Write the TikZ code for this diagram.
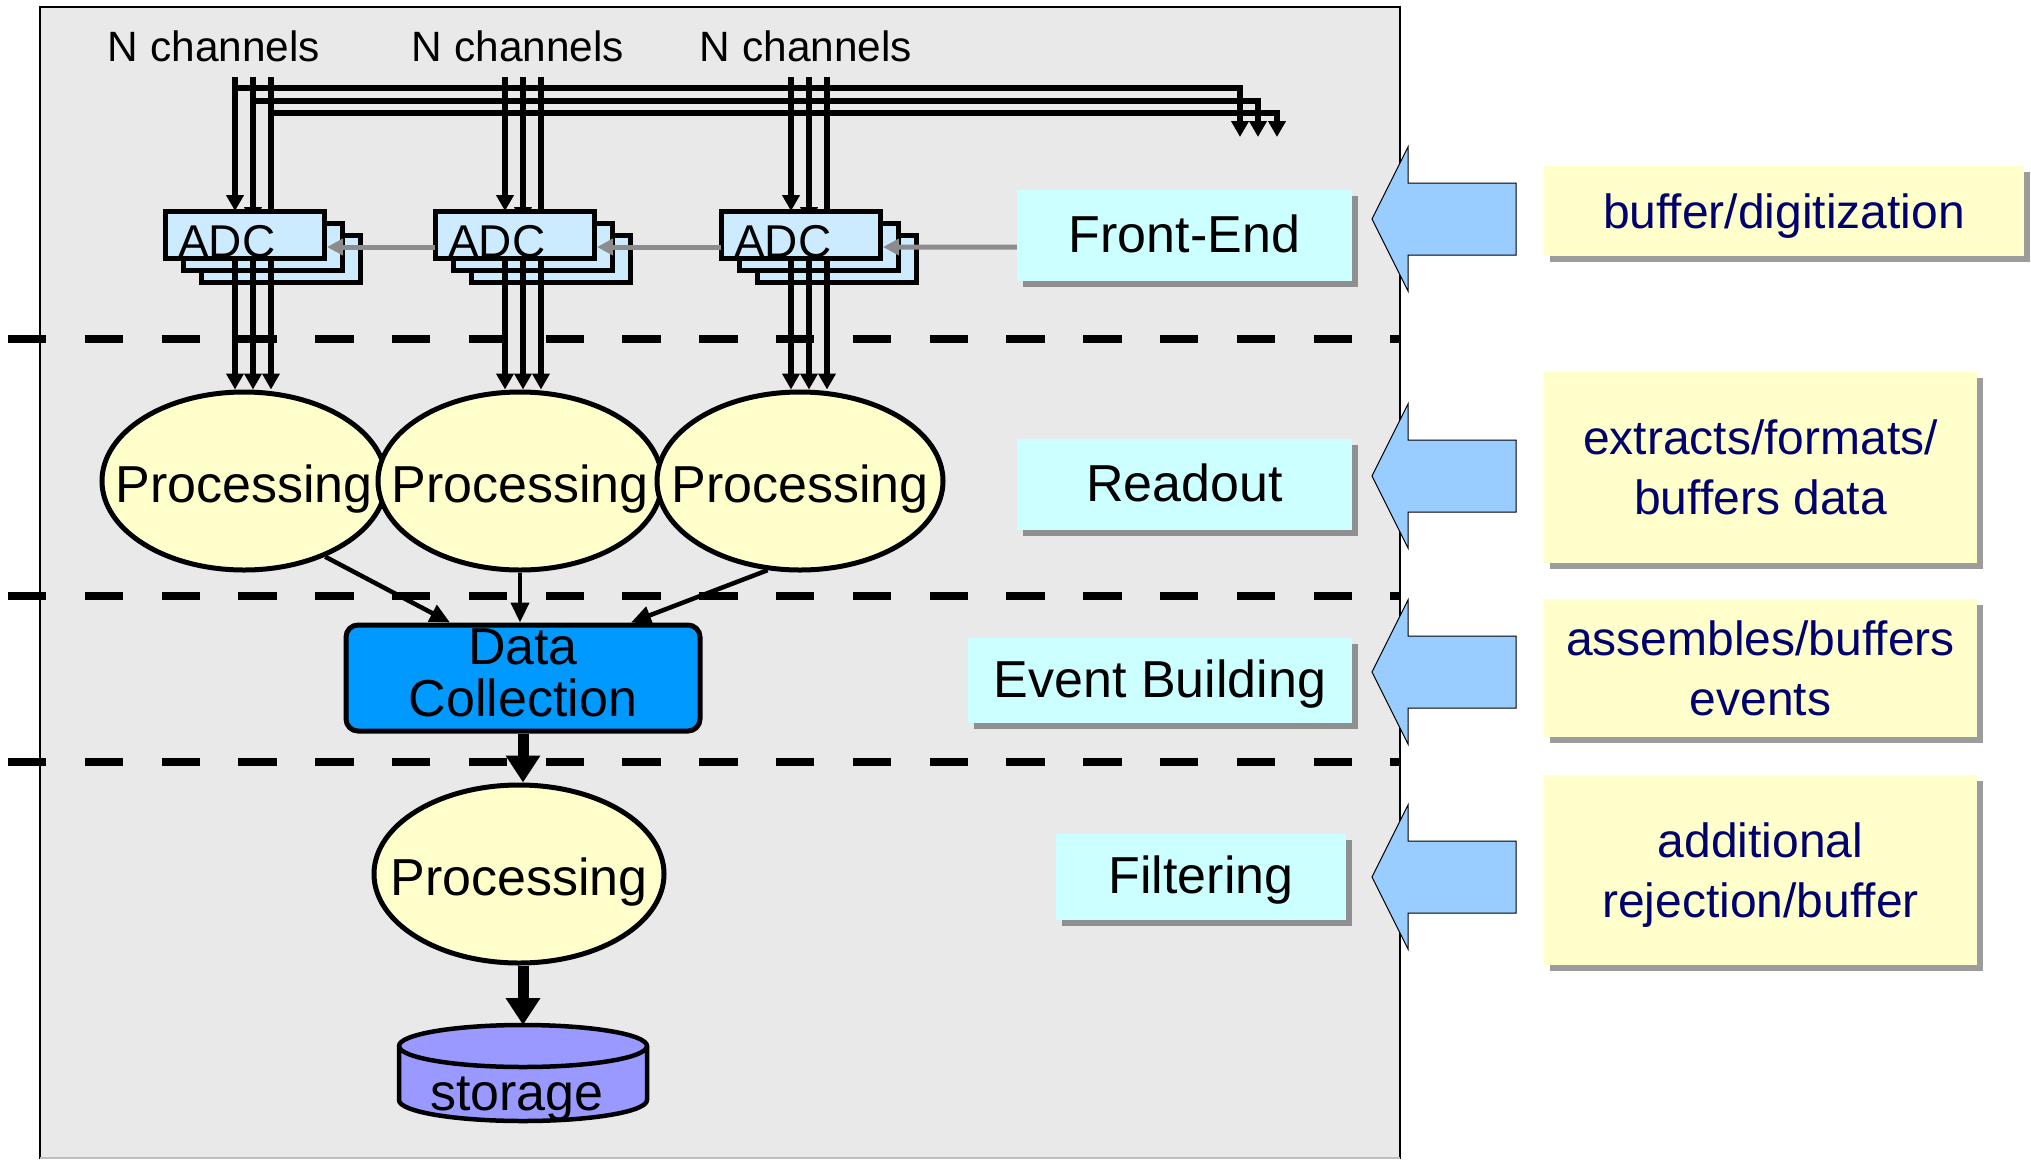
\documentclass[tikz,border=0pt]{standalone}
\usepackage{fontspec}
\setmainfont{Liberation Sans}
\usetikzlibrary{arrows.meta,calc,shapes.geometric,shadows}
\definecolor{bggray}{HTML}{E9E9E9}
\definecolor{adcblue}{HTML}{CCEBFF}
\definecolor{procyel}{HTML}{FFFFCC}
\definecolor{dcblue}{HTML}{0099FF}
\definecolor{storeblue}{HTML}{9999FF}
\definecolor{lblcyan}{HTML}{CCFFFF}
\definecolor{arrblue}{HTML}{99CCFF}
\definecolor{shadowgray}{HTML}{8F8F8F}
\definecolor{shadowlight}{HTML}{9C9C9C}
\definecolor{navytext}{HTML}{00006E}
\definecolor{linkgray}{HTML}{8C8C8C}
\pgfdeclarelayer{back}
\pgfdeclarelayer{lines}
\pgfsetlayers{back,lines,main}
\newcommand\szA{\fontsize{52bp}{52bp}\selectfont}
\newcommand\szB{\fontsize{42.4bp}{50bp}\selectfont}
\newcommand\szC{\fontsize{46bp}{50bp}\selectfont}
\newcommand\szD{\fontsize{48bp}{60bp}\selectfont}
\begin{document}
\begin{tikzpicture}[x=1bp,y=-1bp,line join=miter,
  chan/.style={line width=5.5bp},
  tipk/.style={-{Triangle[length=16bp,width=17bp]}},
  adcbox/.style={draw,line width=5bp,fill=adcblue,minimum width=159bp,minimum height=47bp,inner sep=0pt,outer sep=0pt},
  procshape/.style={ellipse,draw,line width=5bp,fill=procyel,inner sep=0pt,minimum height=178bp},
  proctext/.style={inner sep=0pt,text depth=0bp,font=\szA},
  lbl/.style={fill=lblcyan,inner sep=0pt,text depth=4bp,font=\szA,
    drop shadow={shadow xshift=6bp,shadow yshift=-6bp,fill=shadowgray,opacity=1}},
  desc/.style={fill=procyel,inner sep=0pt,align=center,text=navytext,font=\szD,text depth=0bp,
    drop shadow={shadow xshift=6bp,shadow yshift=-6bp,fill=shadowlight,opacity=1}},
  grayarr/.style={draw=linkgray,line width=5bp,-{Triangle[length=16bp,width=16bp]}},
  midarr/.style={line width=4.5bp,-{Triangle[length=20bp,width=18bp]}},
  thickarr/.style={line width=11bp,-{Triangle[length=27bp,width=33bp]}},
  bigarrow/.style={fill=arrblue,draw=black,line width=1bp},
  sep/.style={line width=8bp,dash pattern=on 38.4bp off 38.4bp}]
\useasboundingbox (0,0) rectangle (2031,1159);

\begin{pgfonlayer}{back}
  \fill[white] (0,0) rectangle (2031,1159);
  \fill[bggray] (40,7) rectangle (1400,1159);
  \draw[line width=2bp] (40,1159) -- (40,7) -- (1400,7) -- (1400,1159);
  \draw[line width=1.5bp,draw=black!25] (40,1158) -- (1400,1158);
  \foreach \yy in {339,596,762} \draw[sep] (8,\yy) -- (1400,\yy);
\end{pgfonlayer}

% N channels labels
\node[font=\szB,anchor=base,inner sep=0pt] (nc1) at (214,61) {N channels};
\node[font=\szB,anchor=base,inner sep=0pt] (nc2) at (518,61) {N channels};
\node[font=\szB,anchor=base,inner sep=0pt] (nc3) at (806,61) {N channels};

% label boxes
\node[lbl,minimum width=335bp,minimum height=91bp] (fe) at (1184.5,235.5) {Front-End};
\node[lbl,minimum width=335bp,minimum height=91bp] (ro) at (1184.5,484.5) {Readout};
\node[lbl,minimum width=384bp,minimum height=85bp] (eb) at (1160,680.5) {Event Building};
\node[lbl,minimum width=290bp,minimum height=86bp] (fi) at (1201,877) {Filtering};

% ADC stacks
\foreach \g/\dx in {1/0,2/270,3/556} {
  \node[adcbox] (adcC\g) at (280.5+\dx,258.5) {};
  \node[adcbox] (adcB\g) at (262.5+\dx,246.5) {};
  \node[adcbox] (adcA\g) at (244.5+\dx,234.5) {};
  \node[font=\szC,anchor=base west,inner sep=0pt] (adct\g) at ($(adcA\g.south west)+(13,-1)$) {ADC};
  \coordinate (ta\g) at (235+\dx,77);
  \coordinate (tb\g) at (253+\dx,77);
  \coordinate (tc\g) at (271+\dx,77);
}

% bus and channel lines behind the ADC boxes
\coordinate (h1s) at (235,88);  \coordinate (h1e) at (1240,137);
\coordinate (h2s) at (253,101); \coordinate (h2e) at (1258,137);
\coordinate (h3s) at (271,113); \coordinate (h3e) at (1277,137);
\begin{pgfonlayer}{lines}
  \foreach \g in {1,2,3} {
    \draw[chan,tipk] (ta\g) -- (ta\g |- adcA\g.north);
    \draw[chan,tipk] (tb\g) -- (tb\g |- adcB\g.north);
    \draw[chan,tipk] (tc\g) -- (tc\g |- adcC\g.north);
  }
  \draw[chan,tipk] (h1s) -| (h1e);
  \draw[chan,tipk] (h2s) -| (h2e);
  \draw[chan,tipk] (h3s) -| (h3e);
\end{pgfonlayer}

% gray control arrows
\draw[grayarr] ($(adcA2.south west)+(0,-11)$) -- ($(adcA1.south east)+(3,-11)$);
\draw[grayarr] ($(adcA3.south west)+(0,-11)$) -- ($(adcA2.south east)+(3,-11)$);
\draw[grayarr] ($(fe.south west)+(0,-34)$) -- ($(adcA3.south east)+(3,-11)$);

% processing ellipses
\node[procshape,minimum width=284bp] (p1) at (244,481) {};
\node[proctext] (p1t) at ($(p1.center)+(0,3)$) {Processing};
\node[procshape,minimum width=284bp] (p2) at (520,481) {};
\node[proctext] (p2t) at ($(p2.center)+(0,3)$) {Processing};
\node[procshape,minimum width=286bp] (p3) at (800,481) {};
\node[proctext] (p3t) at ($(p3.center)+(0,3)$) {Processing};

% channel lines from ADC to processing
\foreach \g/\p in {1/p1,2/p2,3/p3} {
  \draw[chan,tipk] (ta\g |- adcA\g.south) -- (ta\g |- \p.north);
  \draw[chan,tipk] (tb\g |- adcA\g.south) -- (tb\g |- \p.north);
  \draw[chan,tipk] (tc\g |- adcA\g.south) -- (tc\g |- \p.north);
}

% data collection
\node[draw,line width=5bp,fill=dcblue,rounded corners=12bp,minimum width=354bp,minimum height=106bp,
      inner sep=0pt] (dc) at (523,678) {};
\node[inner sep=0pt,align=center,font=\szA] (dct) at ($(dc.center)+(0,-5)$) {Data\\Collection};
\draw[midarr] (p1.-43) -- ($(dc.north)+(-73,0)$);
\draw[midarr] (p2.south) -- (p2.south |- dc.north);
\draw[midarr] (p3.-110) -- ($(dc.north)+(108,0)$);

% filtering processing
\node[procshape,minimum width=290bp] (p4) at (519,874) {};
\node[proctext] (p4t) at ($(p4.center)+(0,3)$) {Processing};
\draw[thickarr] (dc.south) -- (dc.south |- p4.north);

% storage cylinder
\coordinate (sttop) at (523,1025);
\filldraw[fill=storeblue,line width=4.5bp] (399,1046) -- (399,1100)
  arc[start angle=180,end angle=0,x radius=124,y radius=21] -- (647,1046)
  arc[start angle=0,end angle=-180,x radius=124,y radius=21] -- cycle;
\draw[line width=4.5bp] (399,1046) arc[start angle=180,end angle=0,x radius=124,y radius=21];
\node[font=\szA,anchor=base,inner sep=0pt] (st) at (517,1110) {storage};
\draw[thickarr] (sttop |- p4.south) -- (sttop);

% big blue arrows
\foreach \yy in {219,476,672,877}
  \draw[bigarrow] (1372,\yy) -- (1408,\yy-72) -- (1408,\yy-36) -- (1516,\yy-36)
    -- (1516,\yy+36) -- (1408,\yy+36) -- (1408,\yy+72) -- cycle;

% descriptions
\node[desc,minimum width=480bp,minimum height=90bp] (d1) at (1784,211) {buffer/digitization};
\node[desc,minimum width=433bp,minimum height=191bp] (d2) at (1760.5,467.5) {extracts/formats/\\buffers data};
\node[desc,minimum width=433bp,minimum height=138bp] (d3) at (1760.5,668) {assembles/buffers\\events};
\node[desc,minimum width=433bp,minimum height=190bp] (d4) at (1760.5,870) {additional\\rejection/buffer};
\end{tikzpicture}
\end{document}
